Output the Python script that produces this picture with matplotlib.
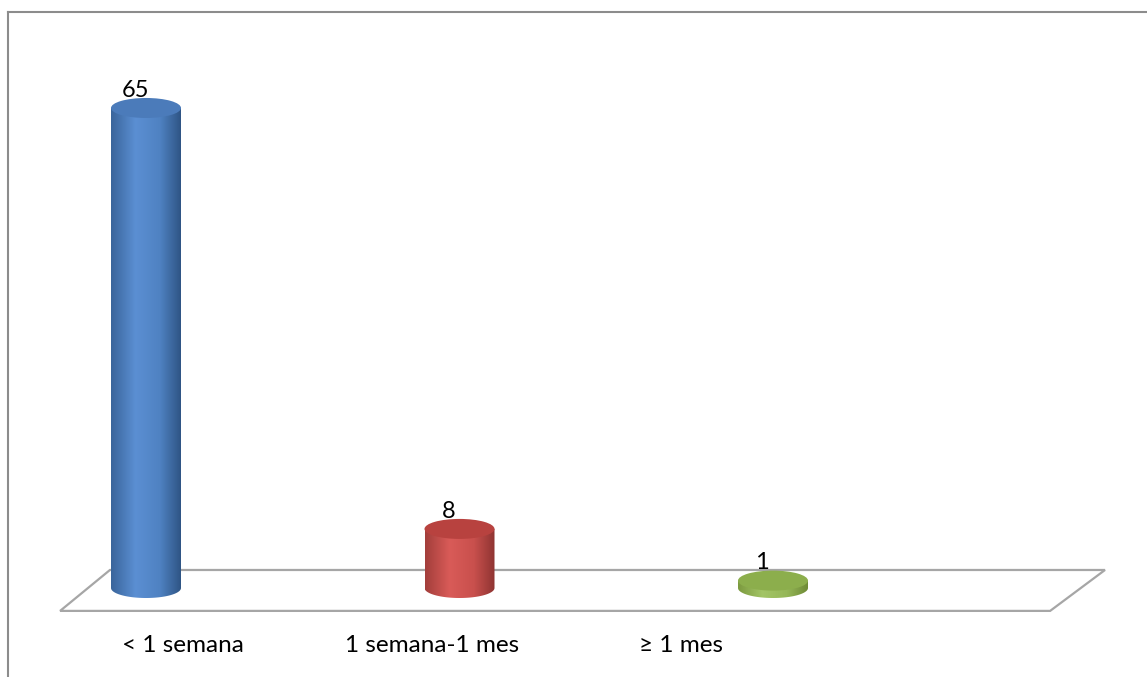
import numpy as np
import matplotlib
matplotlib.use("Agg")
import matplotlib.pyplot as plt
from matplotlib.path import Path
from matplotlib.patches import PathPatch, Ellipse, Polygon
from matplotlib.colors import LinearSegmentedColormap
from matplotlib.lines import Line2D

plt.rcParams['font.family'] = ['Lato', 'DejaVu Sans']

# data
categories = ["< 1 semana", "1 semana-1 mes", "\u2265 1 mes"]
values = [65, 8, 1]
side_colors = [["#3a659b", "#5b8fd3", "#4f82c2", "#2f5585"],
               ["#a33e3b", "#d95b58", "#c9504d", "#8f3432"],
               ["#7c9a3f", "#a3c566", "#95b758", "#6f8b36"]]
top_colors = ["#4b7bba", "#b8423f", "#8cae4c"]

W, H = 1147, 677
fig = plt.figure(figsize=(W / 100, H / 100), dpi=100)
ax = fig.add_axes([0, 0, 1, 1])
ax.axis("off")

# pixel layout -> data scale
px_x = 313.5   # px per category
px_y = 7.385   # px per unit
x0_px, y0_px = 146, 588
xlim = (-x0_px / px_x, (W - x0_px) / px_x)
ylim = ((y0_px - H) / px_y, y0_px / px_y)

bw = 70 / px_x      # cylinder width
eh = 20 / px_y      # ellipse height

# floor
floor = Polygon([(-0.274, -3.1), (-0.115, 2.44), (3.059, 2.44), (2.884, -3.1)],
                closed=True, fill=False, edgecolor="#a6a6a6", lw=1.6, zorder=1)
ax.add_patch(floor)

for i, (v, sc, tc) in enumerate(zip(values, side_colors, top_colors)):
    xl, xr = i - bw / 2, i + bw / 2
    t = np.linspace(np.pi, 2 * np.pi, 60)
    pts = [(i + bw / 2 * np.cos(a), eh / 2 * np.sin(a)) for a in t]
    pts += [(xr, v), (xl, v), pts[0]]
    clip = PathPatch(Path(pts, closed=True), facecolor="none", edgecolor="none")
    ax.add_patch(clip)
    cmap = LinearSegmentedColormap.from_list("c%d" % i,
                                             [(0, sc[0]), (0.35, sc[1]), (0.7, sc[2]), (1, sc[3])])
    grad = np.linspace(0, 1, 200).reshape(1, -1)
    im = ax.imshow(grad, cmap=cmap, extent=(xl, xr, -eh / 2, v), aspect="auto",
                   origin="lower", zorder=3, interpolation="bilinear")
    im.set_clip_path(clip)
    ax.add_patch(Ellipse((i, v), bw, eh, facecolor=tc, edgecolor="none", zorder=4))
    ax.text(i - 0.035, v + 2.4, str(v), ha="center", va="center", fontsize=17, zorder=5)

for i, c in enumerate(categories):
    ax.text(0.118 + 0.795 * i, -7.8, c, ha="center", va="center", fontsize=17.5)

ax.set_xlim(*xlim)
ax.set_ylim(*ylim)

# chart border
fig.add_artist(Line2D([8 / W, 8 / W], [0, 1 - 12 / H], color="#8c8c8c", lw=1.5))
fig.add_artist(Line2D([8 / W, 1], [1 - 12 / H, 1 - 12 / H], color="#8c8c8c", lw=1.5))

fig.savefig("out.png", dpi=100)
